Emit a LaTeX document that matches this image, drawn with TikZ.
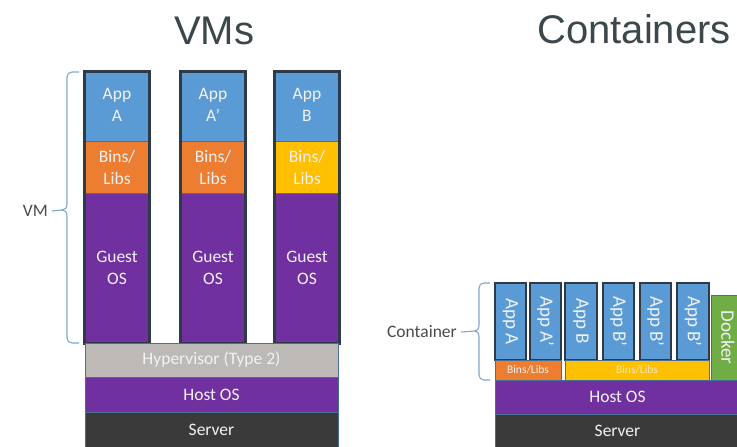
\documentclass[tikz,border=0pt]{standalone}
\usepackage{fontspec}
\setmainfont{Carlito}
\newfontfamily\titlefont{Liberation Sans}
\definecolor{appblue}{HTML}{5B9BD5}
\definecolor{binorange}{HTML}{ED7D31}
\definecolor{binyellow}{HTML}{FFC000}
\definecolor{ospurple}{HTML}{7030A0}
\definecolor{hypgray}{HTML}{BDB9B7}
\definecolor{servdark}{HTML}{3A3A3A}
\definecolor{dockgreen}{HTML}{70AD47}
\definecolor{colline}{HTML}{2E3A46}
\definecolor{edgeline}{HTML}{4A6F94}
\definecolor{bracecol}{HTML}{7FA6CE}
\definecolor{titlecol}{HTML}{3C474C}
\definecolor{labelcol}{HTML}{4A4A4A}
\definecolor{boxtxt}{HTML}{F2F2F2}
\newcommand\uptext[1]{\raisebox{5pt}{\begin{tabular}{@{}c@{}}#1\end{tabular}}}
\begin{document}
\begin{tikzpicture}[x=1pt,y=-1pt,
  blk/.style={draw=edgeline, line width=0.8pt, inner sep=0pt, text=boxtxt,
    font=\fontsize{17.5}{22}\selectfont, align=center},
  vmcol/.style={blk, minimum width=64pt},
  capp/.style={blk, fill=appblue, rotate=-90, minimum width=77pt, minimum height=31pt,
    font=\fontsize{19}{22}\selectfont},
  colframe/.style={draw=colline, line width=2.4pt},
  bracepath/.style={draw=bracecol, line width=1.1pt},
  sidelabel/.style={text=labelcol, font=\fontsize{17.5}{20}\selectfont, inner sep=0pt},
  titletext/.style={text=titlecol, font=\titlefont\fontsize{40}{44}\selectfont, inner sep=0pt}]
\useasboundingbox (0,0) rectangle (737,447);
% titles
\node[titletext] (tvm) at (214,31) {VMs};
\node[titletext] (tct) at (634,29) {Containers};
% VM side
\foreach \i/\cx/\app/\bin in {1/117/{App\\A}/binorange, 2/213/{App\\A’}/binorange, 3/307/{App\\B}/binyellow}{
  \node[vmcol, fill=appblue, minimum height=69pt] (app\i) at (\cx,106.5) {\uptext{\app}};
  \node[vmcol, fill=\bin, minimum height=52pt] (bin\i) at (\cx,167) {Bins/\\Libs};
  \node[vmcol, fill=ospurple, minimum height=150pt] (guest\i) at (\cx,268) {Guest\\OS};
  \draw[colframe] (app\i.north west) rectangle (guest\i.south east);
}
\node[blk, fill=hypgray, minimum width=253pt, minimum height=34pt] (hyp) at (211.5,360) {Hypervisor (Type 2)};
\node[blk, fill=ospurple, minimum width=253pt, minimum height=35pt] (host1) at (211.5,394.5) {Host OS};
\node[blk, fill=servdark, minimum width=253pt, minimum height=35pt] (serv1) at (211.5,429.5) {Server};
% VM brace
\coordinate (vmtip) at (62,210);
\draw[bracepath] (79,72) -- (72,72) .. controls (69,72) and (67,74) .. (67,77) -- (67,204)
  .. controls (67,208) and (65,210) .. (vmtip) .. controls (65,210) and (67,212) .. (67,216)
  -- (67,338) .. controls (67,341) and (69,343) .. (72,343) -- (79,343);
\node[sidelabel, anchor=east] (vmlab) at (48,211) {VM};
\draw[bracepath] (vmlab.east) ++(4,0) -- (vmtip);
% Container side
\node[capp] (ca1) at (510.5,321.5) {App A};
\node[capp] (ca2) at (545.5,321.5) {App A’};
\node[capp] (ca3) at (581,321.5) {App B};
\node[capp] (ca4) at (618.5,321.5) {App B’};
\node[capp] (ca5) at (655.5,321.5) {App B’};
\node[capp] (ca6) at (693,321.5) {App B’};
\foreach \i in {1,...,6}{ \draw[colframe, line width=2pt] (ca\i.north west) rectangle (ca\i.south east); }
\node[blk, fill=binorange, minimum width=66pt, minimum height=20pt, font=\fontsize{11.5}{12}\selectfont] (cbin1) at (528,370) {Bins/Libs};
\node[blk, fill=binyellow, minimum width=144pt, minimum height=20pt, font=\fontsize{11.5}{12}\selectfont, text=boxtxt!80!binyellow] (cbin2) at (637,370) {Bins/Libs};
\node[blk, fill=dockgreen, rotate=-90, minimum width=85pt, minimum height=34pt, font=\fontsize{19}{22}\selectfont] (dock) at (728,337.5) {Docker};
\node[blk, fill=ospurple, minimum width=245pt, minimum height=34pt] (host2) at (617.5,397) {Host OS};
\node[blk, fill=servdark, minimum width=245pt, minimum height=33pt] (serv2) at (617.5,430.5) {Server};
% Container brace
\coordinate (cttip) at (475,331);
\draw[bracepath] (490,283) -- (484,283) .. controls (481,283) and (479,285) .. (479,288) -- (479,325)
  .. controls (479,329) and (477,331) .. (cttip) .. controls (477,331) and (479,333) .. (479,337)
  -- (479,375) .. controls (479,378) and (481,380) .. (484,380) -- (490,380);
\node[sidelabel, anchor=east] (ctlab) at (457,332) {Container};
\draw[bracepath] (ctlab.east) ++(4,0) -- (cttip);
\end{tikzpicture}
\end{document}
